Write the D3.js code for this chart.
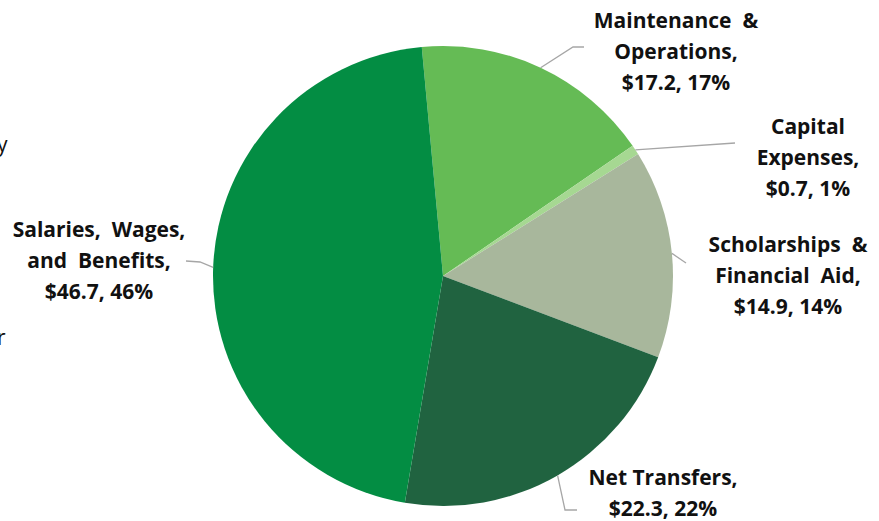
<!DOCTYPE html>
<html>
<head>
<meta charset="utf-8">
<script src="https://cdn.jsdelivr.net/npm/d3@7/dist/d3.min.js"></script>
<style>
  body { margin: 0; background: #fff; }
  text { font-family: "Open Sans", Lato, sans-serif; font-weight: bold; fill: #111; }
</style>
</head>
<body>
<script>
var categories = ['Maintenance & Operations', 'Capital Expenses', 'Scholarships & Financial Aid', 'Net Transfers', 'Salaries, Wages, and Benefits'];
var values = [17.2, 0.7, 14.9, 22.3, 46.7];
var percents = [17, 1, 14, 22, 46];
var labelLines = [
	['Maintenance  &', 'Operations,'],
	['Capital', 'Expenses,'],
	['Scholarships  &', 'Financial  Aid,'],
	['Net Transfers,'],
	['Salaries,  Wages,', 'and  Benefits,']
];
var colors = ['#65bb55', '#a6d892', '#a8b79c', '#206340', '#038d43'];

var width = 879, height = 521;
var cx = 443, cy = 276, radius = 230;
var startAngle = -5.3 * Math.PI / 180;

// label anchor (center x, first line y) and leader line bends
var labelPos = [
	{ x: 676, y: 28, pts: [[573, 47], [584, 47]] },
	{ x: 808, y: 134, pts: [[735, 143]] },
	{ x: 788, y: 252, pts: [[686, 263]] },
	{ x: 663, y: 485, pts: [[565, 510], [577, 510]] },
	{ x: 99, y: 237, pts: [[200, 262], [186, 261]] }
];
var lineH = 31;

var svg = d3.select('body').append('svg')
	.attr('width', width)
	.attr('height', height);

var data = categories.map(function(c, i) {
	return { name: c, value: values[i], pct: percents[i], lines: labelLines[i], color: colors[i], pos: labelPos[i] };
});

var pie = d3.pie()
	.value(function(d) { return d.value; })
	.sort(null)
	.startAngle(startAngle)
	.endAngle(startAngle + 2 * Math.PI);

var arc = d3.arc().innerRadius(0).outerRadius(radius);

var g = svg.append('g').attr('transform', 'translate(' + cx + ',' + cy + ')');
var arcs = pie(data);

g.selectAll('path.slice')
	.data(arcs)
	.enter()
	.append('path')
	.attr('class', 'slice')
	.attr('d', arc)
	.attr('fill', function(d) { return d.data.color; });

// leader lines
svg.selectAll('path.leader')
	.data(arcs)
	.enter()
	.append('path')
	.attr('class', 'leader')
	.attr('fill', 'none')
	.attr('stroke', '#a6a6a6')
	.attr('stroke-width', 1.3)
	.attr('d', function(d) {
		var a = (d.startAngle + d.endAngle) / 2;
		var p = [[cx + radius * Math.sin(a), cy - radius * Math.cos(a)]].concat(d.data.pos.pts);
		return d3.line()(p);
	});

// labels
var labels = svg.selectAll('text.lbl')
	.data(data)
	.enter()
	.append('text')
	.attr('class', 'lbl')
	.attr('text-anchor', 'middle')
	.attr('font-size', 21)
	.style('white-space', 'pre');

labels.each(function(d) {
	var t = d3.select(this);
	var lines = d.lines.concat(['$' + d.value.toFixed(1) + ', ' + d.pct + '%']);
	lines.forEach(function(l, i) {
		t.append('tspan')
			.attr('x', d.pos.x)
			.attr('y', d.pos.y + i * lineH)
			.text(l);
	});
});

// cut-off text fragments at the left edge
svg.append('text').attr('x', -3).attr('y', 152).attr('font-size', 21).style('font-weight', 'normal').text('y');
svg.append('text').attr('x', -3).attr('y', 345).attr('font-size', 21).style('font-weight', 'normal').text('r');
</script>
</body>
</html>
